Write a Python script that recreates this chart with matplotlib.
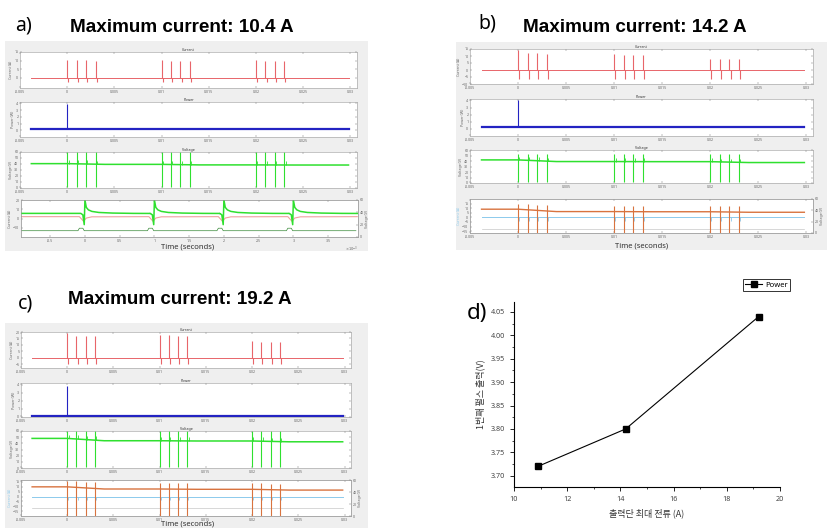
"""Three scope captures of pulse current/power/voltage plus first-pulse output vs. max current."""
import matplotlib.pyplot as plt
import numpy as np
from matplotlib.patches import Rectangle

plt.rcParams['font.family'] = ['Noto Sans', 'DejaVu Sans']

W, H = 835, 531
BG = "#efefef"
RED = "#e8656a"
BLUE = "#2323c2"
GREEN = "#2fe02f"
ORANGE = "#d8733f"
SKY = "#8ccaec"
FAINT = "#c8c8c8"
KOREAN = ['Noto Sans CJK KR', 'DejaVu Sans']
TITLE_FONT = ['Liberation Sans', 'DejaVu Sans']

# ---- scope captures (a, b, c) ----
TAGS = ["a)", "b)", "c)"]
TITLES = ["Maximum current: 10.4 A", "Maximum current: 14.2 A", "Maximum current: 19.2 A"]

SPIKE_T = [0.0, 0.001, 0.002, 0.003, 0.010, 0.011, 0.012, 0.013, 0.020, 0.021, 0.022, 0.023]
TRACE_T = [-0.0038, 0.0298]
SCOPE_XTICKS = [-0.005, 0, 0.005, 0.01, 0.015, 0.02, 0.025, 0.03]
SCOPE_XLABELS = ["-0.005", "0", "0.005", "0.01", "0.015", "0.02", "0.025", "0.03"]

CUR_YLIM = [(-6, 15), (-10, 15), (-8, 20)]
CUR_YTICKS = [[0, 5, 10, 15], [-10, -5, 0, 5, 10, 15], [-5, 0, 5, 10, 15, 20]]
CUR_PEAK = [
    [10.4, 10.2, 10.1, 10.0, 10.3, 10.0, 9.9, 9.9, 10.2, 9.8, 9.7, 9.6],
    [14.2, 12.0, 11.8, 11.5, 11.2, 10.9, 10.8, 10.6, 8.2, 7.9, 7.8, 7.6],
    [19.2, 17.2, 16.8, 16.6, 18.0, 17.6, 17.2, 17.0, 12.8, 12.6, 12.4, 12.2],
]
CUR_DIP = [-2.5, -6.5, -4.5]

POW_YLIM = [(-1, 4.2), (-1, 4.2), (0, 4.2)]
POW_BASE = [0.2, 0.2, 0.08]
POW_PEAK = [3.95, 4.05, 3.8]

VOLT_T = [-0.0038, 0.0, 0.004, 0.010, 0.014, 0.020, 0.024, 0.0298]
VOLT_LV = [
    [40.6, 40.6, 39.4, 39.4, 38.5, 38.5, 38.3, 38.3],
    [42.0, 42.0, 39.0, 39.0, 38.8, 38.8, 37.2, 37.2],
    [48.0, 48.0, 44.2, 44.2, 43.8, 43.8, 42.5, 42.5],
]
VOLT_UP = [60, 52, 60]
VOLT_DOWN = [1, 1, 1]

# bottom row of b and c: overlaid current (left) and voltage (right)
OVL_YLIM = [None, (-17, 20), (-20, 17)]
ORANGE_LV = [
    None,
    [42.0, 42.0, 37.8, 37.8, 37.5, 37.5, 36.6, 36.6],
    [48.6, 48.6, 45.0, 45.0, 44.5, 44.5, 43.2, 43.2],
]
SKY_DIP = [None, -4.0, -3.5]
FAINT_LV = [None, -12.5, -12.0]

# bottom row of a: zoom on the first pulses (ms)
ZOOM_EVENTS = [0, 1, 2, 3]
ZOOM_XLIM = (-0.92, 3.93)
ZOOM_XTICKS = [-0.5, 0, 0.5, 1, 1.5, 2, 2.5, 3, 3.5]
GREEN_DT = [-0.06, -0.03, -0.01, 0.0, 0.02, 0.05, 0.1, 0.2, 0.4, 0.7, 0.94]
GREEN_V = [38.3, 36.0, 20.0, 60.0, 48.0, 44.0, 41.5, 39.8, 38.8, 38.3, 38.2]
PINK_DT = [-0.08, -0.02, 0.02, 0.1, 0.92]
PINK_A = [2.0, -3.0, 0.5, 1.8, 2.0]
PULSE_DT = [-0.1, -0.08, -0.03, -0.01, 0.01, 0.9]
PULSE_A = [-13.2, -10.5, -10.5, -13.2, -13.2, -13.2]

GRAY_BOX = [(5, 41, 368, 251), (456, 42, 827, 250), (5, 323, 368, 528)]
AX_BOX = [
    [(20, 52, 357, 88), (20, 102, 357, 137), (20, 152, 357, 188), (21, 200, 358, 237)],
    [(470, 49, 813, 84), (470, 99, 813, 136), (470, 150, 813, 183), (470, 199, 813, 233)],
    [(21, 332, 351, 368), (21, 383, 351, 417), (21, 431, 351, 468), (21, 480, 351, 516)],
]
TAG_POS = [(15, 25), (478, 24), (18, 303)]
TITLE_POS = [(70, 27), (523, 27), (68, 300)]
TIME_POS = [(188, 247), (642, 246), (188, 524)]

# ---- panel d ----
MAX_CURRENT = [10.9, 14.2, 19.2]
PULSE_OUT = [3.72, 3.80, 4.04]

FS = 2.6
SPIKE_LW = 0.8


def px_rect(x0, y0, x1, y1):
    return [x0 / W, 1 - y1 / H, (x1 - x0) / W, (y1 - y0) / H]


def style_scope(ax, title=None, ylabel=None):
    ax.set_facecolor("white")
    for s in ax.spines.values():
        s.set_color("#9a9a9a")
        s.set_linewidth(0.4)
    ax.tick_params(direction="in", length=1.5, width=0.3, labelsize=FS, colors="#666666",
                   pad=1.2, top=True, right=True)
    if title:
        ax.set_title(title, fontsize=FS, pad=1.0, color="#333333")
    if ylabel:
        ax.set_ylabel(ylabel, fontsize=FS, labelpad=1.0, color="#666666")


def scope_x(ax):
    ax.set_xlim(-0.005, 0.0307)
    ax.set_xticks(SCOPE_XTICKS)
    ax.set_xticklabels(SCOPE_XLABELS)


def draw_scope(fig, i):
    gx0, gy0, gx1, gy1 = GRAY_BOX[i]
    fig.add_artist(Rectangle((gx0 / W, 1 - gy1 / H), (gx1 - gx0) / W, (gy1 - gy0) / H,
                             transform=fig.transFigure, facecolor=BG, edgecolor="none", zorder=-1))
    boxes = AX_BOX[i]
    spikes = np.array(SPIKE_T)

    # current
    ax = fig.add_axes(px_rect(*boxes[0]))
    style_scope(ax, "Current", "Current (A)")
    ax.plot(TRACE_T, [0, 0], color=RED, lw=0.7)
    ax.vlines(spikes, 0, CUR_PEAK[i], color=RED, lw=SPIKE_LW)
    ax.vlines(spikes + 0.00012, CUR_DIP[i], 0, color=RED, lw=SPIKE_LW)
    ax.set_ylim(*CUR_YLIM[i])
    ax.set_yticks(CUR_YTICKS[i])
    scope_x(ax)

    # power
    ax = fig.add_axes(px_rect(*boxes[1]))
    style_scope(ax, "Power", "Power (W)")
    ax.plot(TRACE_T, [POW_BASE[i]] * 2, color=BLUE, lw=1.6)
    ax.vlines([SPIKE_T[0]], POW_BASE[i], POW_PEAK[i], color=BLUE, lw=SPIKE_LW)
    ax.set_ylim(*POW_YLIM[i])
    ax.set_yticks([0, 1, 2, 3, 4])
    scope_x(ax)

    # voltage
    ax = fig.add_axes(px_rect(*boxes[2]))
    style_scope(ax, "Voltage", "Voltage (V)")
    level = np.interp(spikes, VOLT_T, VOLT_LV[i])
    ax.plot(VOLT_T, VOLT_LV[i], color=GREEN, lw=1.1)
    ax.vlines(spikes, VOLT_DOWN[i], VOLT_UP[i], color=GREEN, lw=SPIKE_LW)
    ax.vlines(spikes + 0.00015, level, level + 6, color=GREEN, lw=0.6)
    ax.set_ylim(0, 60)
    ax.set_yticks([0, 10, 20, 30, 40, 50, 60])
    scope_x(ax)

    # bottom row
    ax = fig.add_axes(px_rect(*boxes[3]))
    if i == 0:
        style_scope(ax, None, "Current (A)")
        ev = np.array(ZOOM_EVENTS, dtype=float)
        pink_t = np.concatenate([[ZOOM_XLIM[0]]] + [e + np.array(PINK_DT) for e in ev])
        pink_a = np.concatenate([[PINK_A[0]]] + [PINK_A for _ in ev])
        ax.plot(pink_t, pink_a, color="#f0a0a0", lw=0.8)
        pulse_t = np.concatenate([[ZOOM_XLIM[0]]] + [e + np.array(PULSE_DT) for e in ev])
        pulse_a = np.concatenate([[PULSE_A[0]]] + [PULSE_A for _ in ev])
        ax.plot(pulse_t, pulse_a, color="#3a8a3a", lw=0.5)
        ax.set_ylim(-20, 20)
        ax.set_yticks([-10, 0, 10, 20])
        ax.set_xlim(*ZOOM_XLIM)
        ax.set_xticks(ZOOM_XTICKS)
        ax.set_xticklabels([f"{v:g}" for v in ZOOM_XTICKS])
        ax.text(1.0, -0.2, r"$\times10^{-3}$", transform=ax.transAxes, fontsize=FS, color="#666666",
                ha="right", va="top")
        ax2 = ax.twinx()
        green_t = np.concatenate([[ZOOM_XLIM[0]]] + [e + np.array(GREEN_DT) for e in ev])
        green_v = np.concatenate([[GREEN_V[0]]] + [GREEN_V for _ in ev])
        ax2.plot(green_t, green_v, color=GREEN, lw=1.1)
        ax2.set_ylim(0, 60)
        ax2.set_yticks([0, 20, 40, 60])
    else:
        style_scope(ax, None, "Current (A)")
        ax.yaxis.label.set_color(SKY)
        ax.plot(TRACE_T, [0, 0], color=SKY, lw=0.7)
        ax.vlines(spikes + 0.00012, SKY_DIP[i], 0, color=SKY, lw=0.6)
        ax.plot(TRACE_T, [FAINT_LV[i]] * 2, color=FAINT, lw=0.5)
        ax.set_ylim(*OVL_YLIM[i])
        ax.set_yticks([-15, -10, -5, 0, 5, 10, 15])
        scope_x(ax)
        ax2 = ax.twinx()
        ax2.plot(VOLT_T, ORANGE_LV[i], color=ORANGE, lw=1.0)
        ax2.vlines(spikes, 0, np.interp(spikes, VOLT_T, ORANGE_LV[i]) + 10, color=ORANGE, lw=SPIKE_LW)
        ax2.set_ylim(0, 60)
        ax2.set_yticks([0, 20, 40, 60])
    ax2.tick_params(direction="in", length=1.5, width=0.3, labelsize=FS, colors="#666666", pad=1.2)
    ax2.set_ylabel("Voltage (V)", fontsize=FS, labelpad=1.0, color="#666666")
    for s in ax2.spines.values():
        s.set_color("#9a9a9a")
        s.set_linewidth(0.4)

    tx, ty = TIME_POS[i]
    fig.text(tx / W, 1 - ty / H, "Time (seconds)", fontsize=5.5, color="#333333", ha="center", va="center")
    x, y = TAG_POS[i]
    fig.text(x / W, 1 - y / H, TAGS[i], fontsize=14, ha="left", va="center")
    x, y = TITLE_POS[i]
    fig.text(x / W, 1 - y / H, TITLES[i], family=TITLE_FONT, fontsize=13.6, fontweight="bold",
             ha="left", va="center")


def draw_summary(fig):
    ax = fig.add_axes(px_rect(514, 302, 780, 487))
    ax.plot(MAX_CURRENT, PULSE_OUT, color="black", lw=0.8, marker="s", markersize=4, label="Power")
    ax.set_xlim(10, 20)
    ax.set_ylim(3.676, 4.071)
    ax.set_xticks(np.arange(10, 21, 2))
    ax.set_xticks(np.arange(11, 20, 2), minor=True)
    ax.set_yticks(np.arange(3.70, 4.051, 0.05))
    ax.set_yticks(np.arange(3.725, 4.06, 0.05), minor=True)
    ax.yaxis.set_major_formatter(plt.FormatStrFormatter("%.2f"))
    for side in ("top", "right"):
        ax.spines[side].set_visible(False)
    for side in ("left", "bottom"):
        ax.spines[side].set_linewidth(0.8)
    ax.tick_params(which="major", length=3, width=0.6, labelsize=5.2, colors="black", labelcolor="#444444")
    ax.tick_params(which="minor", length=1.6, width=0.5)
    ax.set_xlabel("출력단 최대 전류 (A)", family=KOREAN, fontsize=6.5, labelpad=4, color="#333333")
    ax.set_ylabel("1번째 펄스 출력(V)", family=KOREAN, fontsize=6.5, labelpad=4, color="#333333")
    leg = ax.legend(loc="upper right", bbox_to_anchor=(790 / W, 1 - 279 / H), bbox_transform=fig.transFigure,
                    fontsize=5.5, frameon=True, fancybox=False, edgecolor="black", borderpad=0.3,
                    handlelength=2.2, handletextpad=0.4, borderaxespad=0)
    leg.get_frame().set_linewidth(0.7)
    fig.text(467 / W, 1 - 314 / H, "d)", fontsize=16, ha="left", va="center")


def main():
    fig = plt.figure(figsize=(W / 100, H / 100), dpi=100, facecolor="white")
    for i in range(3):
        draw_scope(fig, i)
    draw_summary(fig)
    fig.savefig("out.png", dpi=100, facecolor="white")
    plt.close(fig)


if __name__ == "__main__":
    main()
